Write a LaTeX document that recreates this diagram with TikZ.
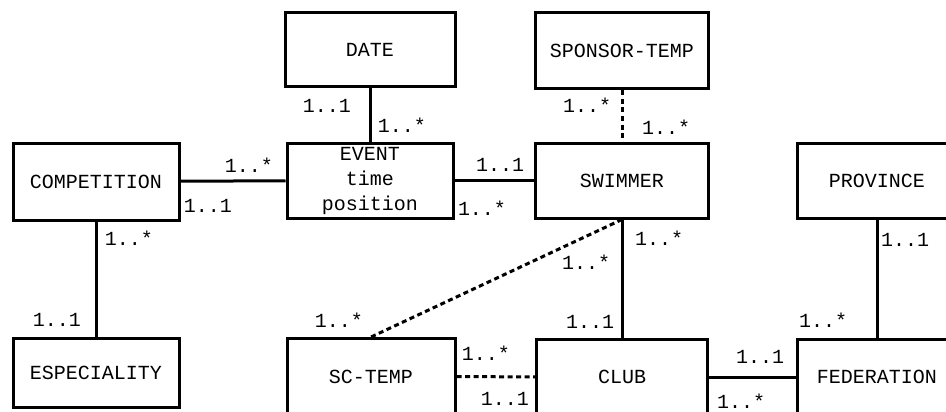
\documentclass[tikz,border=0pt]{standalone}
\usepackage{fontspec}
\setmainfont{Liberation Mono}
\begin{document}
\begin{tikzpicture}[x=1pt,y=-1pt,
  entity/.style={draw, line width=3pt, inner sep=0pt, font=\fontsize{20}{25}\selectfont, align=center},
  lab/.style={inner sep=0pt, font=\fontsize{20}{25}\selectfont},
  rel/.style={line width=3pt},
  dotrel/.style={line width=3pt, dash pattern=on 5pt off 3.5pt}]
\useasboundingbox (0,0) rectangle (946,412);
\clip (0,0) rectangle (946,412);
% entities
\node[entity, minimum width=170pt, minimum height=74pt] (date) at (370,50) {DATE};
\node[entity, minimum width=173pt, minimum height=76pt] (sponsor) at (622,51) {SPONSOR-TEMP};
\node[entity, minimum width=166pt, minimum height=77pt] (comp) at (96,181.5) {COMPETITION};
\node[entity, minimum width=166pt, minimum height=75pt] (event) at (370,180.5) {EVENT\\time\\position};
\node[entity, minimum width=173pt, minimum height=75pt] (swimmer) at (622,180.5) {SWIMMER};
\node[entity, minimum width=160pt, minimum height=75pt] (province) at (877,180.5) {PROVINCE};
\node[entity, minimum width=166pt, minimum height=69pt] (espec) at (96,372.5) {ESPECIALITY};
\node[entity, minimum width=168pt, minimum height=76pt] (sctemp) at (371,376.5) {SC-TEMP};
\node[entity, minimum width=171pt, minimum height=76pt] (club) at (622,377) {CLUB};
\node[entity, minimum width=160pt, minimum height=76pt] (fed) at (877,377) {FEDERATION};
% connectors
\draw[rel] (date) -- (event);
\draw[rel] (comp) -- (event);
\draw[rel] (event) -- (swimmer);
\draw[dotrel] (sponsor) -- (swimmer);
\draw[rel] (swimmer) -- (club);
\draw[dotrel] (swimmer.south) -- (sctemp.north);
\draw[dotrel] (sctemp) -- (club);
\draw[rel] (club) -- (fed);
\draw[rel] (comp) -- (espec);
\draw[rel] (province) -- (fed);
% multiplicities
\node[lab] (l1) at (327,106) {1..1};
\node[lab] (l2) at (402,125) {1..*};
\node[lab] (l3) at (249,165) {1..*};
\node[lab] (l4) at (208,206) {1..1};
\node[lab] (l5) at (500,165) {1..1};
\node[lab] (l6) at (482,208) {1..*};
\node[lab] (l7) at (587,105) {1..*};
\node[lab] (l8) at (666,127) {1..*};
\node[lab] (l9) at (659,238) {1..*};
\node[lab] (l10) at (586,262) {1..*};
\node[lab] (l11) at (590,322) {1..1};
\node[lab] (l12) at (339,320) {1..*};
\node[lab] (l13) at (486,353) {1..*};
\node[lab] (l14) at (505,399) {1..1};
\node[lab] (l15) at (760,357) {1..1};
\node[lab] (l16) at (741,401) {1..*};
\node[lab] (l17) at (129,238) {1..*};
\node[lab] (l18) at (57,320) {1..1};
\node[lab] (l19) at (905,240) {1..1};
\node[lab] (l20) at (823,320) {1..*};
\end{tikzpicture}
\end{document}
